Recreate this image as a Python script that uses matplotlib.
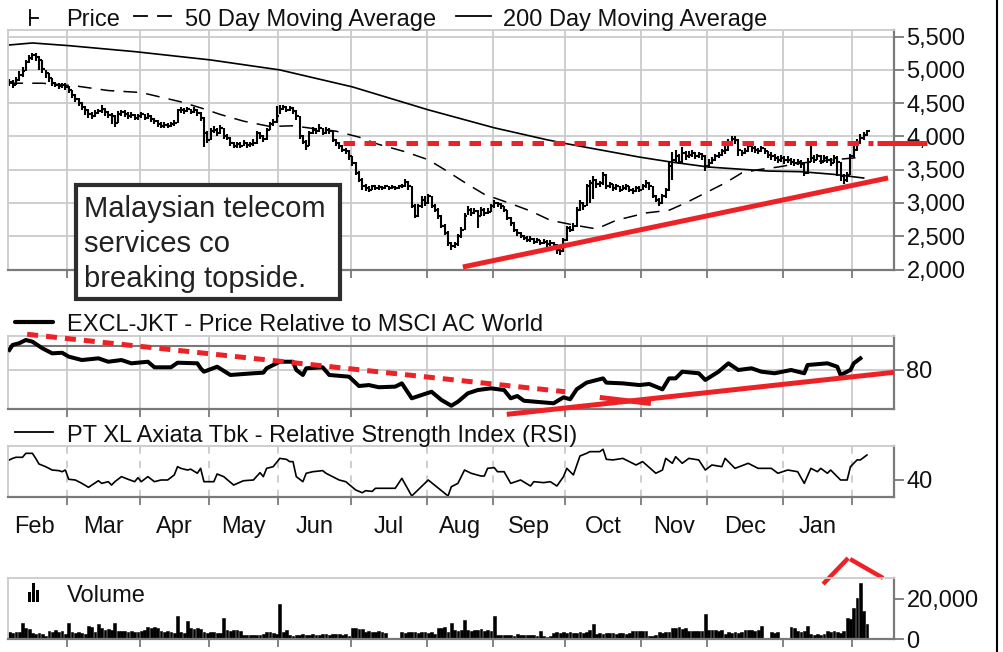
import numpy as np
import matplotlib
matplotlib.use('Agg')
import matplotlib.pyplot as plt
from matplotlib.lines import Line2D
from matplotlib.patches import Rectangle

plt.rcParams['font.family'] = ['Liberation Sans', 'DejaVu Sans']

# ---------------- data ----------------
month_labels = ['Feb', 'Mar', 'Apr', 'May', 'Jun', 'Jul', 'Aug', 'Sep', 'Oct', 'Nov', 'Dec', 'Jan']
month_starts = [0, 18, 40, 61, 82, 104, 127, 147, 169, 192, 212, 235, 256]

close = [4820, 4780, 4850, 4920, 4980, 5120, 5180, 5220, 5200, 5150, 5020, 4950, 4880, 4800, 4780, 4760, 4770, 4750,
         4700, 4620, 4560, 4500, 4450, 4400, 4330, 4300, 4350, 4380, 4420, 4360, 4320, 4300, 4200, 4330, 4360, 4340, 4300, 4320, 4280, 4300,
         4330, 4280, 4310, 4260, 4230, 4180, 4160, 4170, 4150, 4180, 4200, 4390, 4400, 4380, 4410, 4370, 4400, 4350, 4280, 4050, 3950, 4080,
         4100, 4050, 4120, 4000, 3980, 3900, 3850, 3880, 3860, 3900, 3870, 3880, 3900, 4050, 4000, 3960, 4100, 4180, 4220, 4300,
         4420, 4450, 4400, 4430, 4380, 4300, 4000, 3920, 3850, 4050, 4100, 4080, 4120, 4050, 4100, 4080, 3950, 3900, 3850, 3800, 3780, 3700,
         3600, 3450, 3350, 3250, 3220, 3200, 3250, 3230, 3240, 3220, 3250, 3230, 3240, 3220, 3250, 3250, 3320, 3250, 2950, 2800, 2950, 3050, 3000,
         3100, 2950, 2900, 2800, 2650, 2550, 2400, 2350, 2380, 2500, 2600, 2800, 2900, 2850, 2880, 2800, 2900, 2850, 2870, 2950, 3000,
         2980, 2950, 2900, 2780, 2700, 2600, 2550, 2500, 2480, 2450, 2460, 2420, 2440, 2400, 2420, 2380, 2400, 2370, 2300, 2280, 2450, 2620,
         2600, 2650, 2900, 3000, 2950, 3250, 3300, 3350, 3280, 3300, 3420, 3250, 3280, 3220, 3250, 3200, 3230, 3250, 3200, 3180, 3220, 3200,
         3250, 3300, 3250, 3100, 3050, 3000, 3100, 3200, 3550, 3650, 3700, 3620, 3750, 3700, 3720, 3750, 3700, 3730, 3700, 3550, 3600,
         3650, 3700, 3720, 3780, 3800, 3900, 3960, 3950, 3800, 3750, 3780, 3850, 3820, 3800, 3780, 3820, 3780, 3720, 3700, 3680, 3650, 3680, 3640,
         3650, 3620, 3600, 3620, 3580, 3450, 3620, 3680, 3650, 3700, 3620, 3680, 3650, 3600, 3680, 3620, 3400, 3350, 3420, 3700,
         3800, 3900, 3980, 4020, 4080]

high = [4870, 4850, 4900, 4980, 5050, 5150, 5230, 5260, 5250, 5210, 5150, 5000, 4950, 4880, 4820, 4800, 4810, 4800,
        4760, 4700, 4640, 4580, 4520, 4460, 4420, 4360, 4400, 4420, 4470, 4430, 4380, 4350, 4320, 4380, 4400, 4390, 4360, 4360, 4340, 4340,
        4370, 4340, 4350, 4320, 4280, 4240, 4210, 4210, 4200, 4220, 4250, 4420, 4440, 4430, 4450, 4420, 4440, 4410, 4360, 4290, 4080, 4130,
        4160, 4130, 4170, 4130, 4040, 3990, 3920, 3920, 3910, 3940, 3920, 3920, 3960, 4080, 4070, 4020, 4130, 4220, 4260, 4460,
        4470, 4480, 4460, 4460, 4440, 4390, 4300, 4020, 3950, 4080, 4140, 4130, 4180, 4130, 4140, 4130, 4080, 3960, 3920, 3870, 3830, 3790,
        3700, 3620, 3480, 3370, 3280, 3260, 3270, 3270, 3270, 3260, 3270, 3260, 3270, 3260, 3270, 3290, 3360, 3330, 3250, 2980, 2990, 3100, 3110,
        3130, 3100, 2990, 2920, 2820, 2680, 2580, 2420, 2420, 2530, 2640, 2850, 2950, 2920, 2920, 2900, 2940, 2920, 2920, 2990, 3050,
        3020, 3000, 2960, 2900, 2790, 2720, 2610, 2560, 2520, 2500, 2500, 2470, 2480, 2450, 2460, 2440, 2440, 2420, 2380, 2330, 2480, 2660,
        2660, 2700, 2940, 3050, 3020, 3280, 3350, 3400, 3360, 3330, 3460, 3430, 3310, 3280, 3290, 3260, 3270, 3290, 3260, 3230, 3260, 3250,
        3280, 3340, 3310, 3260, 3120, 3080, 3140, 3230, 3620, 3760, 3800, 3740, 3840, 3780, 3780, 3790, 3760, 3770, 3750, 3720, 3660,
        3690, 3740, 3760, 3810, 3850, 3960, 4000, 4000, 3960, 3800, 3820, 3880, 3880, 3850, 3830, 3850, 3830, 3780, 3760, 3730, 3710, 3720, 3700,
        3700, 3680, 3660, 3660, 3640, 3600, 3680, 3850, 3720, 3740, 3720, 3720, 3700, 3680, 3720, 3700, 3620, 3440, 3460, 3740,
        3850, 3960, 4030, 4060, 4100]

low = [4760, 4730, 4770, 4840, 4900, 4980, 5100, 5150, 5140, 5000, 4950, 4880, 4820, 4760, 4740, 4720, 4730, 4700,
       4650, 4580, 4520, 4460, 4400, 4320, 4280, 4260, 4290, 4330, 4350, 4310, 4280, 4180, 4140, 4200, 4310, 4290, 4260, 4270, 4240, 4250,
       4280, 4240, 4260, 4210, 4180, 4140, 4120, 4130, 4120, 4140, 4160, 4200, 4350, 4340, 4360, 4330, 4350, 4300, 4230, 3840, 3900, 3950,
       4050, 4000, 4040, 3960, 3940, 3850, 3820, 3830, 3820, 3850, 3830, 3840, 3860, 3890, 3960, 3920, 3950, 4100, 4150, 4200,
       4330, 4390, 4370, 4380, 4340, 4240, 3960, 3880, 3800, 3850, 4040, 4040, 4060, 4020, 4040, 4030, 3920, 3860, 3810, 3760, 3740, 3650,
       3560, 3420, 3320, 3200, 3180, 3170, 3190, 3200, 3200, 3190, 3210, 3200, 3210, 3200, 3210, 3220, 3240, 3200, 2930, 2770, 2790, 2930, 2960,
       2980, 2920, 2860, 2760, 2620, 2520, 2360, 2300, 2330, 2360, 2480, 2600, 2820, 2810, 2830, 2620, 2810, 2810, 2830, 2860, 2930,
       2940, 2910, 2860, 2740, 2660, 2560, 2510, 2470, 2440, 2410, 2420, 2380, 2400, 2370, 2380, 2340, 2360, 2330, 2230, 2220, 2270, 2430,
       2560, 2580, 2640, 2880, 2890, 2950, 3000, 3060, 3220, 3240, 3270, 3210, 3230, 3180, 3200, 3160, 3190, 3200, 3160, 3140, 3170, 3160,
       3190, 3230, 3200, 3080, 3010, 2960, 2980, 3080, 3180, 3350, 3620, 3580, 3600, 3650, 3670, 3690, 3660, 3680, 3640, 3480, 3530,
       3580, 3630, 3680, 3700, 3740, 3780, 3880, 3880, 3700, 3700, 3730, 3760, 3770, 3750, 3740, 3770, 3730, 3680, 3650, 3630, 3600, 3620, 3590,
       3600, 3570, 3560, 3570, 3530, 3400, 3440, 3610, 3600, 3640, 3580, 3620, 3600, 3550, 3600, 3400, 3330, 3290, 3320, 3420,
       3680, 3780, 3880, 3950, 4000]

ma50_days = [0, 10, 20, 30, 40, 46, 52, 58, 64, 71, 79, 86, 92, 99, 106, 112, 120, 127, 132, 138,
             144, 152, 158, 164, 171, 178, 184, 193, 200, 205, 211, 217, 222, 227, 233, 240, 250, 259]
ma50_vals = [4800, 4800, 4760, 4690, 4660, 4590, 4520, 4430, 4330, 4230, 4150, 4160, 4120, 4080, 3990, 3880, 3770, 3650, 3500, 3310,
             3130, 2990, 2880, 2740, 2670, 2610, 2740, 2850, 2890, 3000, 3150, 3300, 3450, 3500, 3540, 3600, 3650, 3690]

ma200_days = [0, 7, 18, 38, 61, 82, 104, 127, 147, 163, 169, 191, 200, 212, 230, 240, 250, 259]
ma200_vals = [5375, 5405, 5365, 5275, 5150, 5000, 4745, 4400, 4130, 3950, 3890, 3690, 3620, 3540, 3480, 3470, 3430, 3375]

rel_days = [0, 1, 3, 5, 7, 10, 13, 16, 18, 22, 27, 30, 34, 37, 42, 44, 49, 51, 57, 58, 59, 63, 67, 74, 77, 78, 82, 86, 87, 89,
            90, 95, 97, 103, 106, 109, 112, 117, 119, 122, 128, 131, 134, 136, 139, 142, 146, 150, 152, 154, 156, 165, 168, 170,
            172, 175, 180, 181, 186, 191, 194, 198, 200, 202, 204, 209, 211, 215, 218, 221, 225, 228, 232, 237, 241, 242, 248,
            251, 252, 255, 256, 258]
rel_vals = [96.5, 100.6, 102, 104.7, 103.3, 97.9, 93.7, 94.2, 91, 88.2, 89.6, 86.8, 88.2, 85.5, 86.8, 82.2, 82.2, 86, 85.5, 81.4,
            78.6, 82.7, 75.9, 77.3, 77.8, 81.4, 86.8, 86.8, 80, 75.9, 81.4, 82.2, 75.9, 74.5, 66.8, 67.6, 65.8, 66.3, 69, 56.7,
            62.1, 55.3, 50.6, 53.9, 60.8, 63.5, 64.9, 63.5, 56.7, 58.6, 54.7, 52.6, 57.5, 55.9, 64.1, 69.6, 73.1, 69.6, 69, 67.6,
            68.5, 64.1, 73.1, 73.1, 78.6, 77.3, 71.8, 78.6, 85.5, 80, 81.4, 78.6, 77.3, 80, 77.3, 84.1, 85.5, 82.7, 75.9, 80,
            85.5, 89.6]

rsi_days = [0, 1, 2, 4, 5, 7, 8, 9, 11, 13, 15, 16, 17, 18, 20, 22, 24, 27, 28, 30, 31, 32, 34, 36, 38, 39, 40, 42, 44, 46,
            48, 50, 51, 52, 54, 55, 57, 58, 59, 62, 63, 65, 68, 71, 74, 76, 77, 78, 80, 82, 84, 85, 86, 87, 89, 90, 92, 95, 96, 98,
            100, 102, 105, 107, 108, 110, 111, 117, 119, 122, 127, 128, 131, 133, 134, 136, 138, 140, 143, 144, 145, 147, 148,
            150, 152, 155, 158, 159, 162, 164, 166, 168, 169, 171, 173, 175, 176, 179, 180, 181, 183, 186, 190, 192, 196, 198,
            199, 201, 202, 204, 206, 209, 211, 213, 216, 217, 220, 224, 227, 231, 233, 236, 239, 241, 243, 245, 246, 248, 249,
            252, 254, 255, 257, 258, 260]
rsi_vals = [56.7, 58, 58.9, 58.9, 62.2, 62.2, 58, 53.3, 51.1, 48.3, 47.8, 46.9, 48.3, 40.6, 40, 37.2, 33.9, 39.4, 37.2, 38.6,
            35.8, 38.6, 42.8, 40.6, 38.6, 41.9, 38.6, 42.8, 38.6, 40, 40, 44.2, 51.1, 49.7, 48.3, 49, 45.6, 49.7, 38.6, 38.6,
            45, 42.8, 35.8, 39.4, 40, 46.1, 42.8, 49.7, 51.1, 58, 57.2, 55.3, 55.3, 42.8, 38.6, 45.6, 46.9, 47.8, 45.6, 42.8,
            40, 38.6, 31.7, 29.4, 31.1, 30.5, 33.1, 33.1, 41.4, 26.7, 40, 37.8, 31.1, 26.7, 34.4, 37.2, 48.3, 45.6, 43.3, 43.3,
            49.7, 50.3, 46.9, 46.9, 37.2, 40, 35, 38.6, 37.8, 38.6, 35, 42.8, 49.7, 44.2, 60, 62.2, 63.6, 63.6, 65.6, 57.2,
            56.7, 58, 52.5, 55.3, 45.6, 48.3, 58, 53.9, 59.4, 53.9, 58, 56.7, 48.3, 52.5, 51.1, 58, 49.7, 53.9, 49.7, 49.7,
            45.6, 48.3, 46.9, 37.2, 49.7, 46.9, 49.7, 45.6, 48.3, 40, 40, 51.1, 56.7, 56.7, 60.8]

volume = [3500, 3200, 3800, 3400, 8300, 5500, 5000, 3000, 2800, 3200, 2600, 1500, 4100, 3800, 4400, 3600, 4000, 2500,
          8300, 3500, 3300, 3600, 3200, 2400, 6600, 6200, 3800, 7400, 5500, 4800, 5200, 4500, 8300, 4100, 3900, 4300, 3700, 4100,
          3500, 3800, 4200, 4600, 6300, 5800, 6000, 5500, 4100, 3800, 4000, 3600, 3000, 11500, 3500, 3200, 9100, 5800, 5200, 5500,
          5000, 3500, 3200, 3600, 3500, 3000, 3300, 10400, 4600, 4200, 4800, 4400, 4000, 2100, 2000, 2300, 1900, 2200, 2000, 2400,
          3500, 3800, 3300, 2500, 17400, 3500, 4600, 2100, 1800, 2300, 2000, 2500, 1900, 2200, 2600, 2000, 2300, 2500, 2800, 2300,
          2600, 2400, 2700, 2200, 2500, 1800, 5500, 5800, 5200, 5000, 3800, 4000, 3600, 3500, 3900, 3400, 3000, 0, 0, 0, 0,
          3500, 3200, 3600, 3400, 3800, 3300, 3500, 3700, 3200, 3400, 2800, 5800, 5500, 6000, 3800, 8300, 4600, 4300, 4800, 9400,
          4600, 4200, 4800, 4400, 5000, 4300, 4500, 4000, 11500, 2100, 1900, 2300, 2000, 2200, 1800, 2400, 2100, 1900, 2200, 2000,
          2300, 1800, 4100, 1500, 1300, 1600, 3200, 3500, 3000, 3400, 3100, 3600, 3300, 3000, 3800, 3200, 3500, 4600, 7400, 2500,
          3000, 2800, 3200, 2900, 3100, 2700, 3300, 3000, 2800, 3200, 4100, 4300, 3900, 4200, 4000, 1800, 1600, 2000, 3500, 3300,
          3700, 3400, 5800, 5500, 6000, 5300, 5700, 4100, 4300, 3900, 4000, 4200, 12400, 4600, 4400, 4800, 4300, 4500, 2500, 3500,
          3300, 3700, 3200, 3600, 4600, 4400, 4800, 4200, 4500, 6600, 500, 400, 3500, 3300, 3600, 500, 0, 600, 6300, 5800, 4100,
          3800, 4300, 6600, 2500, 2300, 2700, 2200, 2600, 4100, 3800, 4300, 3500, 3000, 4100, 10400, 10000, 15400, 20300, 28100,
          14000, 7400]

price_resistance = 3900
price_support = ([137.5, 266.4], [2038, 3376])
rel_down = ([5.4, 168.5], [109.4, 62.1])
rel_up = ([150.8, 268.2], [43.5, 78.1])
rel_cross = ([179.0, 194.5], [57.4, 52.4])
vol_peak_mark = ([246.7, 254.3, 254.9, 264.9], [27400, 40300, 39800, 30400])

# ---------------- layout helpers ----------------
W, H = 1004, 652
fig = plt.figure(figsize=(W / 100, H / 100), dpi=100)
RED = '#ec2227'
GRID = '#cacaca'
DARK = '#7a7a7a'
FS = 17
XMIN, XMAX = -0.4, 268.2


def fx(px):
    return px / W


def fy(py):
    return 1 - py / H


def make_ax(top, bottom):
    ax = fig.add_axes([fx(8), fy(bottom), fx(894) - fx(8), (bottom - top) / H])
    ax.set_xlim(XMIN, XMAX)
    for s in ['top', 'left']:
        ax.spines[s].set_color(GRID)
        ax.spines[s].set_linewidth(1.3)
    for s in ['bottom', 'right']:
        ax.spines[s].set_color(DARK)
        ax.spines[s].set_linewidth(1.6)
    ax.yaxis.tick_right()
    ax.tick_params(axis='y', direction='out', length=7, width=1.3, color=DARK,
                   labelsize=FS, pad=2, labelcolor='#111111')
    bounds = [m - 0.5 for m in month_starts[1:]]
    ax.set_xticks(bounds)
    ax.set_xticklabels([])
    ax.tick_params(axis='x', direction='out', length=6, width=1.3, color=DARK)
    ax.set_axisbelow(True)
    return ax, bounds


# ---------------- price panel ----------------
ax1, bounds = make_ax(30, 269.5)
xd = np.arange(len(close))
ax1.vlines(xd, low, high, color='black', lw=1.5)
ax1.hlines(close, xd, xd + 0.9, color='black', lw=1.5)
ax1.plot(ma50_days, ma50_vals, color='black', lw=1.1, dashes=(9, 6))
ax1.plot(ma200_days, ma200_vals, color='black', lw=1.2)
ax1.set_ylim(2000, 5600)
yt = [2000, 2500, 3000, 3500, 4000, 4500, 5000, 5500]
ax1.set_yticks(yt)
ax1.set_yticklabels([f'{v:,}' for v in yt])
ax1.grid(True, color=GRID, lw=1.3)
ax1.plot([101.2, 261.8], [price_resistance] * 2, color=RED, lw=3.6, dashes=(2.3, 1.9), zorder=6)
ax1.plot([263.0, 278.2], [price_resistance] * 2, color=RED, lw=3.6, solid_capstyle='butt',
         clip_on=False, zorder=10)
ax1.plot(price_support[0], price_support[1], color=RED, lw=3.6, solid_capstyle='butt', clip_on=False, zorder=6)

# ---------------- relative panel ----------------
ax2, _ = make_ax(336, 409.3)
ax2.plot(rel_days, rel_vals, color='black', lw=2.9, solid_joinstyle='round', zorder=4)
ax2.set_ylim(47.65, 107.98)
ax2.set_yticks([80])
ax2.set_yticklabels(['80'])
ax2.grid(True, color=GRID, lw=1.3)
ax2.axhline(100, color=DARK, lw=1.5, zorder=1)
ax2.plot(rel_down[0], rel_down[1], color=RED, lw=3.6, dashes=(2.2, 1.6), clip_on=False, zorder=6)
ax2.plot(rel_up[0], rel_up[1], color=RED, lw=3.6, solid_capstyle='butt', clip_on=False, zorder=6)
ax2.plot(rel_cross[0], rel_cross[1], color=RED, lw=3.6, solid_capstyle='butt', zorder=6)

# ---------------- RSI panel ----------------
ax3, _ = make_ax(446, 497.3)
ax3.plot(rsi_days, rsi_vals, color='black', lw=1.2)
ax3.set_ylim(25.6, 68.3)
ax3.set_yticks([40])
ax3.set_yticklabels(['40'])
ax3.xaxis.grid(True, color=GRID, lw=1.3, dashes=(4, 4))
edges = [-2.5] + bounds + [month_starts[-1] + 4]
for i, lab in enumerate(month_labels):
    ax3.text((edges[i] + edges[i + 1]) / 2, (497.3 - 533.3) / 51.3, lab,
             transform=ax3.get_xaxis_transform(), ha='center', va='baseline', fontsize=FS, color='#111111')

# ---------------- volume panel ----------------
ax4, _ = make_ax(577.7, 639.3)
ax4.bar(np.arange(len(volume)), volume, width=0.85, color='black', edgecolor='black', linewidth=0.4)
ax4.set_ylim(0, 30570)
ax4.set_yticks([0, 20000])
ax4.set_yticklabels(['0', '20,000'])
ax4.plot(vol_peak_mark[0][:2], vol_peak_mark[1][:2], color=RED, lw=3.2, solid_capstyle='butt', clip_on=False)
ax4.plot(vol_peak_mark[0][2:], vol_peak_mark[1][2:], color=RED, lw=3.2, solid_capstyle='butt', clip_on=False)

# ---------------- legends ----------------
def fline(x0, x1, y0, y1, **kw):
    fig.add_artist(Line2D([fx(x0), fx(x1)], [fy(y0), fy(y1)], **kw))


def ftext(x, y, s, **kw):
    fig.text(fx(x), fy(y), s, fontsize=kw.pop('fontsize', FS), color='#111111', va='baseline', ha='left', **kw)


fline(30, 30, 10, 25, color='black', lw=1.3)
fline(30, 38, 17.5, 17.5, color='black', lw=1.3)
ftext(66, 26, 'Price')
fline(134, 147, 16, 16, color='black', lw=1.3)
fline(158, 171, 16, 16, color='black', lw=1.3)
ftext(185, 26, '50 Day Moving Average')
fline(456, 491, 16, 16, color='black', lw=1.3)
ftext(503, 26, '200 Day Moving Average')

fline(15, 53, 321.7, 321.7, color='black', lw=3.0, solid_capstyle='round')
ftext(67, 330.7, 'EXCL-JKT - Price Relative to MSCI AC World')
fline(15, 53, 431.7, 431.7, color='black', lw=1.3)
ftext(67, 441.7, 'PT XL Axiata Tbk - Relative Strength Index (RSI)')

for (bx0, bx1, by0) in [(28.5, 31.5, 592), (32, 35, 583), (35.5, 38.5, 590)]:
    fig.add_artist(Rectangle((fx(bx0), fy(602)), fx(bx1) - fx(bx0), fy(by0) - fy(602),
                             facecolor='black', edgecolor='none'))
ftext(67, 601.7, 'Volume')

# ---------------- annotation box ----------------
fig.add_artist(Rectangle((fx(76), fy(299)), fx(340) - fx(76), fy(185) - fy(299),
                         facecolor='white', edgecolor='#2d2d2d', lw=3.0, zorder=20))
for yb, s in [(216.7, 'Malaysian telecom'), (251.7, 'services co'), (287.0, 'breaking topside.')]:
    fig.text(fx(84), fy(yb), s, fontsize=21, color='#222222', va='baseline', ha='left', zorder=21)

# right border of the image
fig.add_artist(Line2D([fx(997.5), fx(997.5)], [0, 1], color='black', lw=1.5))

fig.savefig('out.png', dpi=100)
